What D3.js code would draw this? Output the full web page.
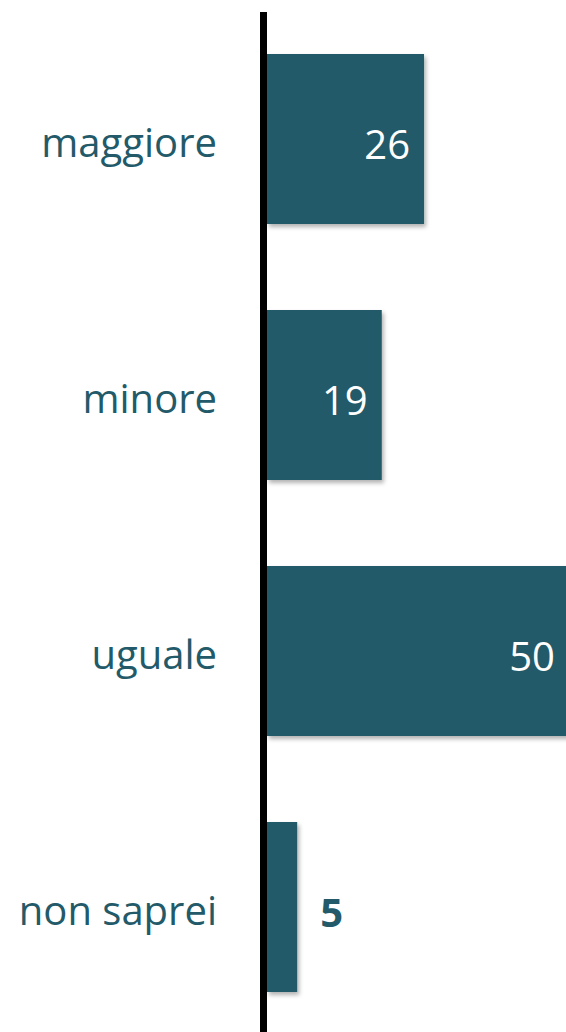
<!DOCTYPE html>
<html><head><meta charset="utf-8">
<script src="https://cdn.jsdelivr.net/npm/d3@7"></script>
<style>body{margin:0;background:#fff}svg{display:block}</style>
</head><body>
<script>
const categories = ["maggiore", "minore", "uguale", "non saprei"];
const values = [26, 19, 50, 5];
const valueLabels = ["26", "19", "50", "5"];

const W = 566, H = 1032;
const color = "#235a69";
const svg = d3.select("body").append("svg").attr("width", W).attr("height", H);

const defs = svg.append("defs");
const f = defs.append("filter").attr("id", "sh").attr("x", "-10%").attr("y", "-10%").attr("width", "130%").attr("height", "130%");
f.append("feDropShadow").attr("dx", 2).attr("dy", 3).attr("stdDeviation", 2).attr("flood-color", "#000").attr("flood-opacity", 0.3);

const y = d3.scaleBand().domain(categories).range([11, 1035]).paddingInner(86/256).paddingOuter(43/256);
const x = d3.scaleLinear().domain([0, 50]).range([267, 569]);

svg.selectAll("rect.bar").data(values).join("rect").attr("class", "bar")
  .attr("x", x(0)).attr("y", (d, i) => y(categories[i]))
  .attr("width", d => x(d) - x(0)).attr("height", y.bandwidth())
  .attr("fill", color).attr("filter", "url(#sh)");

// axis line
svg.append("line").attr("x1", 263.5).attr("x2", 263.5).attr("y1", 12).attr("y2", H)
  .attr("stroke", "#000").attr("stroke-width", 7);

// category labels
svg.selectAll("text.cat").data(categories).join("text").attr("class", "cat")
  .attr("x", 217).attr("y", d => y(d) + y.bandwidth() / 2 + 2)
  .attr("text-anchor", "end").attr("dominant-baseline", "central")
  .attr("font-family", "Open Sans").attr("font-size", 40).attr("fill", color)
  .text(d => d);

// value labels
svg.selectAll("text.val").data(values).join("text").attr("class", "val")
  .attr("x", d => d >= 10 ? x(d) - 14 : x(d) + 23)
  .attr("y", (d, i) => y(categories[i]) + y.bandwidth() / 2 + 4)
  .attr("text-anchor", d => d >= 10 ? "end" : "start").attr("dominant-baseline", "central")
  .attr("font-family", "Open Sans").attr("font-size", 40)
  .attr("font-weight", d => d >= 10 ? "normal" : "bold")
  .attr("fill", d => d >= 10 ? "#fff" : color)
  .text((d, i) => valueLabels[i]);
</script>
</body></html>
